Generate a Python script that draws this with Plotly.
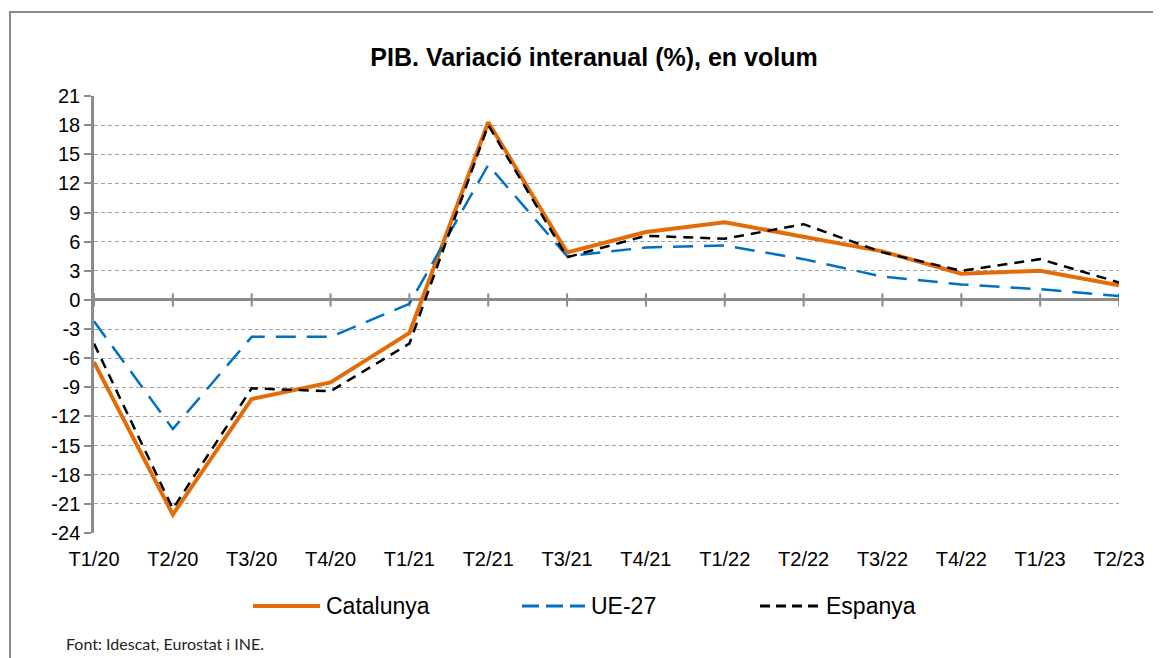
import plotly.graph_objects as go

categories = ["T1/20", "T2/20", "T3/20", "T4/20", "T1/21", "T2/21", "T3/21",
              "T4/21", "T1/22", "T2/22", "T3/22", "T4/22", "T1/23", "T2/23"]
catalunya = [-6.4, -22.1, -10.2, -8.5, -3.4, 18.3, 4.9, 7.0, 8.0, 6.5, 5.0, 2.7, 3.0, 1.5]
ue27 = [-2.2, -13.3, -3.8, -3.8, -0.4, 13.9, 4.5, 5.4, 5.6, 4.2, 2.4, 1.6, 1.1, 0.4]
espanya = [-4.5, -21.5, -9.1, -9.4, -4.5, 18.0, 4.4, 6.6, 6.3, 7.8, 4.9, 3.0, 4.2, 1.8]
series_names = ["Catalunya", "UE-27", "Espanya"]

y_min, y_max, y_step = -24, 21, 3
y_ticks = list(range(y_min, y_max + 1, y_step))

# page offset of the plot div (default body margin)
OFF = 8
W, H = 1161 - OFF, 658 - OFF
# plot area in page pixels: x 94..1119, y 96..533
L, R, T, B = 94 - OFF, 1161 - 1119, 96 - OFF, 658 - 533
pw, ph = W - L - R, H - T - B

def px_x(x):
    """page pixel x -> paper fraction"""
    return (x - OFF - L) / pw

def px_y(y):
    """page pixel y -> paper fraction"""
    return (H - B - (y - OFF)) / ph

font_main = "Liberation Sans, Arial, sans-serif"
grey = "#8c8c8c"

styles = [dict(color="#E36C09", width=4),
          dict(color="#0070C0", width=2.5, dash="20px,11px"),
          dict(color="#000000", width=2.5, dash="10px,7px")]
legend_dash = [None, "17px,7px", "10px,6px"]

fig = go.Figure()
for name, vals, st in zip(series_names, [catalunya, ue27, espanya], styles):
    fig.add_trace(go.Scatter(x=categories, y=vals, name=name, mode="lines",
                             line=st, showlegend=False))

shapes = []
# tick marks crossing the zero line at each category
for c in categories:
    shapes.append(dict(type="line", xref="x", yref="y", x0=c, x1=c, y0=-0.68, y1=0.68,
                       line=dict(color=grey, width=2), layer="below"))
# outer chart border
shapes.append(dict(type="rect", xref="paper", yref="paper",
                   x0=px_x(10), x1=px_x(1190), y0=px_y(690), y1=px_y(12),
                   line=dict(color="#8a8a8a", width=2), fillcolor="rgba(0,0,0,0)"))

# custom legend (line samples + labels)
annotations = []
legend_x = [(253, 320), (522, 585), (760, 820)]
legend_y = 606
for (x0, x1), name, st, ld in zip(legend_x, series_names, styles, legend_dash):
    ln = dict(color=st["color"], width=st["width"] if st["width"] > 3 else 3)
    if ld:
        ln["dash"] = ld
    shapes.append(dict(type="line", xref="paper", yref="paper",
                       x0=px_x(x0), x1=px_x(x1), y0=px_y(legend_y), y1=px_y(legend_y), line=ln))
    annotations.append(dict(text=name, xref="paper", yref="paper", x=px_x(x1 + 4), y=px_y(legend_y),
                            xanchor="left", yanchor="middle", showarrow=False,
                            font=dict(size=23, family=font_main, color="#000")))

annotations.append(dict(text="Font: Idescat, Eurostat i INE.", xref="paper", yref="paper",
                        x=px_x(64), y=px_y(643), xanchor="left", yanchor="middle",
                        showarrow=False, font=dict(size=16, family="Lato, sans-serif", color="#222")))

fig.update_layout(
    width=W, height=H,
    margin=dict(l=L, r=R, t=T, b=B, autoexpand=False),
    paper_bgcolor="white", plot_bgcolor="white",
    font=dict(family=font_main, color="#000000", size=20),
    title=dict(text="<b>PIB. Variació interanual (%), en volum</b>",
               x=(594 - OFF) / W, xanchor="center", y=1 - (57 - OFF) / H, yanchor="middle",
               font=dict(size=25, family=font_main, color="#000")),
    showlegend=False,
    xaxis=dict(type="category", categoryorder="array", categoryarray=categories,
               range=[0, len(categories) - 1], showgrid=False, showline=False,
               ticks="", ticklabelstandoff=12,
               tickfont=dict(size=20, family=font_main, color="#000"),
               zeroline=False, fixedrange=True, automargin=False),
    yaxis=dict(range=[y_min, y_max], tickmode="array", tickvals=y_ticks,
               ticktext=[str(v) for v in y_ticks],
               showgrid=True, gridcolor="#a0a0a0", gridwidth=1, griddash="4px,3px",
               zeroline=True, zerolinecolor=grey, zerolinewidth=2.5,
               showline=True, linecolor=grey, linewidth=2.5,
               ticks="outside", ticklen=7, tickwidth=2, tickcolor=grey,
               tickfont=dict(size=20, family=font_main, color="#000"),
               fixedrange=True, automargin=False),
    shapes=shapes,
    annotations=annotations,
)

fig.write_html("out.html")
